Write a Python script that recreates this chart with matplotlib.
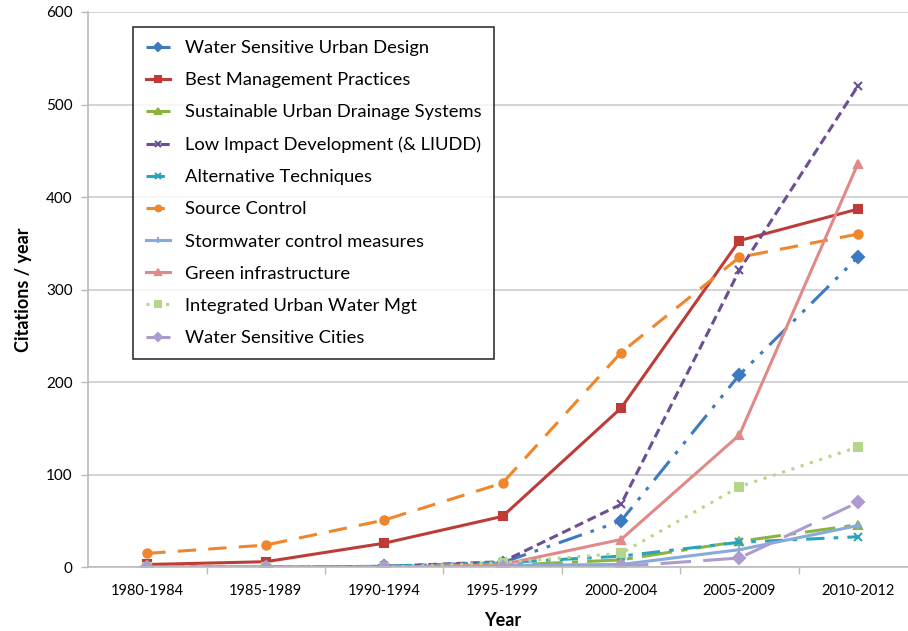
import matplotlib.pyplot as plt

plt.rcParams['font.family'] = ['Lato', 'DejaVu Sans']

periods = ['1980-1984', '1985-1989', '1990-1994', '1995-1999',
           '2000-2004', '2005-2009', '2010-2012']

wsud = [0, 0, 1, 5, 50, 208, 335]
bmp = [3, 6, 26, 55, 172, 353, 387]
suds = [0, 0, 0, 2, 8, 28, 46]
lid = [0, 0, 1, 6, 68, 321, 520]
alt_tech = [0, 0, 1, 5, 12, 27, 33]
source_ctrl = [15, 24, 51, 91, 232, 335, 360]
scm = [0, 0, 0, 2, 3, 19, 45]
green_infra = [0, 0, 0, 3, 30, 143, 436]
iuwm = [0, 0, 0, 5, 15, 87, 130]
wsc = [0, 0, 0, 0, 1, 10, 70]

# (label, values, colour, linestyle, marker)
series = [
    ('Water Sensitive Urban Design', wsud, '#3d7ac0', (0, (8, 3, 1.2, 3, 1.2, 3)), 'D'),
    ('Best Management Practices', bmp, '#be3c38', '-', 's'),
    ('Sustainable Urban Drainage Systems', suds, '#8cb23f', (0, (10, 3, 2, 3)), '^'),
    ('Low Impact Development (& LIUDD)', lid, '#6a4f94', (0, (3, 1.6)), 'x'),
    ('Alternative Techniques', alt_tech, '#2aa3bd', (0, (6, 3, 1.5, 3)), 'x'),
    ('Source Control', source_ctrl, '#f0862c', (0, (6, 4)), 'o'),
    ('Stormwater control measures', scm, '#87a9dc', '-', '+'),
    ('Green infrastructure', green_infra, '#e08a88', '-', '^'),
    ('Integrated Urban Water Mgt', iuwm, '#b5d68a', (0, (1, 2.2)), 's'),
    ('Water Sensitive Cities', wsc, '#ad9bcf', (0, (10, 4)), 'D'),
]

fig = plt.figure(figsize=(9.08, 6.31), dpi=100)
ax = fig.add_axes([0.097, 0.101, 0.913, 0.880])

x = list(range(len(periods)))
for label, vals, col, ls, mk in series:
    ax.plot(x, vals, color=col, linestyle=ls, linewidth=2.2, marker=mk,
            markersize=6, markerfacecolor=col, markeredgecolor=col,
            markeredgewidth=1.5, label=label)

ax.set_xlim(-0.5, len(periods) - 0.5)
ax.set_ylim(0, 600)
ax.set_yticks(range(0, 601, 100))
ax.set_xticks(x)
ax.set_xticklabels(periods)
ax.set_xticks([i + 0.5 for i in range(len(periods) - 1)], minor=True)
ax.tick_params(axis='x', which='major', length=0, pad=12, labelsize=10.5)
ax.tick_params(axis='x', which='minor', length=5, color='#bbbbbb', width=1)
ax.tick_params(axis='y', length=5, color='#bbbbbb', width=1, labelsize=11, pad=6)

ax.grid(axis='y', color='#cccccc', linewidth=1.2)
ax.set_axisbelow(True)
for s in ['top', 'right']:
    ax.spines[s].set_visible(False)
ax.spines['left'].set_color('#bbbbbb')
ax.spines['bottom'].set_color('#bbbbbb')
ax.spines['left'].set_linewidth(1.2)
ax.spines['bottom'].set_linewidth(1.2)

ax.set_xlabel('Year', fontsize=13, fontweight='bold', labelpad=10)
ax.set_ylabel('Citations / year', fontsize=13, fontweight='bold', labelpad=10)

leg = ax.legend(loc='upper left', bbox_to_anchor=(0.054, 0.973), borderaxespad=0,
                fontsize=13.2, frameon=True, fancybox=False, edgecolor='black',
                handlelength=1.3, labelspacing=0.88, borderpad=0.72,
                handletextpad=0.8, markerscale=0.7)
leg.get_frame().set_linewidth(1.2)

fig.savefig('out.png', dpi=100)
